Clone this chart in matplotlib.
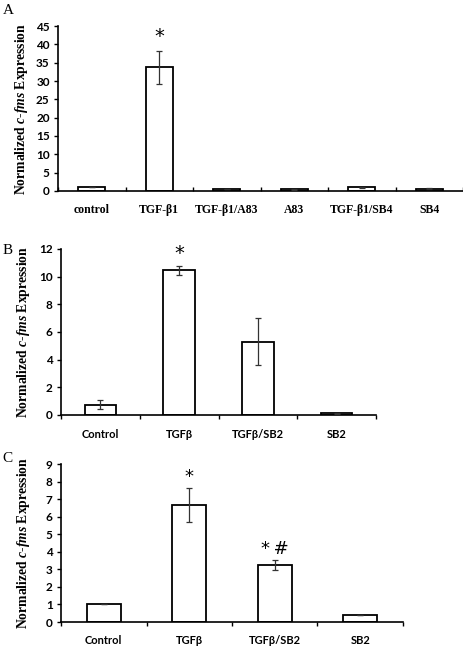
import matplotlib
matplotlib.use("Agg")
import matplotlib.pyplot as plt

plt.rcParams["mathtext.fontset"] = "custom"
plt.rcParams["mathtext.it"] = "Liberation Serif:italic:bold"
plt.rcParams["mathtext.rm"] = "Liberation Serif:bold"

# panel A
cats_a = ["control", "TGF-\u03b21", "TGF-\u03b21/A83", "A83", "TGF-\u03b21/SB4", "SB4"]
vals_a = [1.0, 33.8, 0.6, 0.45, 1.0, 0.6]
errs_a = [0.0, 4.5, 0.05, 0.15, 0.1, 0.15]
ticks_a = [0, 5, 10, 15, 20, 25, 30, 35, 40, 45]

# panel B
cats_b = ["Control", "TGF\u03b2", "TGF\u03b2/SB2", "SB2"]
vals_b = [0.75, 10.45, 5.3, 0.12]
errs_b = [0.35, 0.35, 1.7, 0.03]
ticks_b = [0, 2, 4, 6, 8, 10, 12]

# panel C
cats_c = ["Control", "TGF\u03b2", "TGF\u03b2/SB2", "SB2"]
vals_c = [1.0, 6.68, 3.25, 0.42]
errs_c = [0.0, 0.97, 0.28, 0.0]
ticks_c = [0, 1, 2, 3, 4, 5, 6, 7, 8, 9]
marks_c = ["", "*", "*\u2009#", ""]

YLABEL = r"Normalized $\mathit{c}$-$\mathit{fms}$ Expression"
SERIF = "Liberation Serif"
SANS = "Lato"

fig = plt.figure(figsize=(4.64, 6.47), dpi=100)


def panel(rect, cats, vals, errs, ticks, xfont, tickdir, letter, letter_y, ylabel_x):
    ax = fig.add_axes(rect)
    x = list(range(len(cats)))
    ax.bar(x, vals, width=0.4, color="white", edgecolor="black", linewidth=1.3, zorder=2)
    ax.errorbar(x, vals, yerr=errs, fmt="none", ecolor="#333333", elinewidth=0.9,
                capsize=2.5, capthick=0.9, zorder=3)
    ax.set_xlim(-0.5, len(cats) - 0.5)
    ax.set_ylim(0, ticks[-1])
    ax.set_yticks(ticks)
    ax.set_yticklabels([str(t) for t in ticks], fontfamily=SANS, fontweight="bold", fontsize=8.5)
    ax.set_xticks([i + 0.5 for i in range(-1, len(cats))])
    ax.set_xticklabels([])
    ax.tick_params(axis="x", direction=tickdir, length=3, width=1)
    ax.tick_params(axis="y", direction="out", length=3, width=1, pad=3)
    for i, c in enumerate(cats):
        ax.text(i, -0.115, c, transform=ax.get_xaxis_transform(), ha="center", va="center",
                **xfont)
    for s in ["top", "right"]:
        ax.spines[s].set_visible(False)
    for s in ["left", "bottom"]:
        ax.spines[s].set_linewidth(1.2)
    ax.set_ylabel(YLABEL, fontfamily=SERIF, fontweight="bold", fontsize=9.8)
    ax.yaxis.set_label_coords(ylabel_x, 0.5)
    fig.text(0.006, letter_y, letter, fontfamily=SERIF, fontsize=11, va="center")
    return ax


ax_a = panel([0.125, 0.7048, 0.873, 0.255], cats_a, vals_a, errs_a, ticks_a,
             dict(fontfamily=SERIF, fontweight="bold", fontsize=8.5), "in", "A",
             1 - 10 / 647, -0.069)
ax_a.text(1, vals_a[1] + errs_a[1] + 1.2, "*", ha="center", va="bottom", fontsize=14,
          fontfamily="DejaVu Sans")

ax_b = panel([0.1315, 0.3586, 0.679, 0.2566], cats_b, vals_b, errs_b, ticks_b,
             dict(fontfamily=SANS, fontweight="bold", fontsize=8), "out", "B",
             1 - 250 / 647, -0.092)
ax_b.text(1, vals_b[1] + errs_b[1] + 0.2, "*", ha="center", va="bottom", fontsize=14,
          fontfamily="DejaVu Sans")

ax_c = panel([0.1315, 0.0386, 0.737, 0.2442], cats_c, vals_c, errs_c, ticks_c,
             dict(fontfamily=SANS, fontweight="bold", fontsize=8), "out", "C",
             1 - 458 / 647, -0.085)
for i, m in enumerate(marks_c):
    if m:
        ax_c.text(i, vals_c[i] + errs_c[i] + 0.1, m, ha="center", va="bottom", fontsize=13,
                  fontfamily="DejaVu Sans")

fig.savefig("out.png", dpi=100)
